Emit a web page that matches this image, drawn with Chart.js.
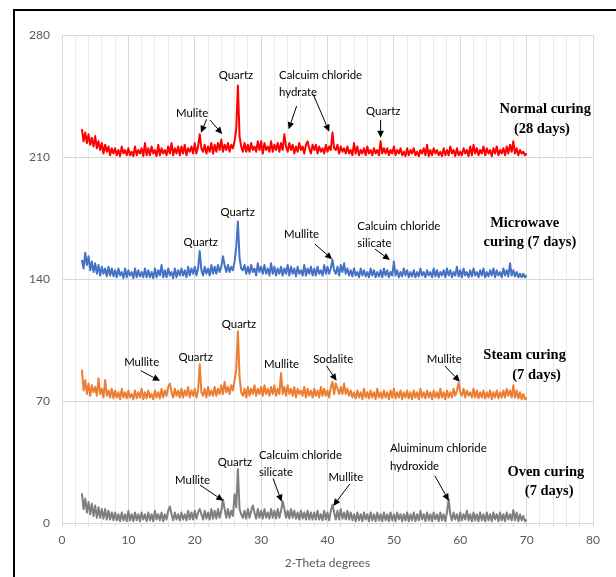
<!DOCTYPE html>
<html>
<head>
<meta charset="utf-8">
<title>XRD patterns</title>
<script src="https://cdn.jsdelivr.net/npm/chart.js"></script>
<style>
  html, body { margin: 0; padding: 0; background: #fff; overflow: hidden; }
  #wrap { position: relative; width: 616px; height: 577px; overflow: hidden; }
  #frame { position: absolute; left: 13px; top: 9px; width: 700px; height: 700px;
           border-left: 2px solid #000; border-top: 2px solid #000; pointer-events: none; }
</style>
</head>
<body>
<div id="wrap">
  <canvas id="xrd" width="616" height="577"></canvas>
  <div id="frame"></div>
</div>
<script>
// 2-theta grid: 3 to 70 degrees in steps of 0.25 (rows of 20 = 5 degrees)
const thetaStart = 3;
const thetaStep = 0.25;

const normal28 = [
  226, 219, 224, 218, 223, 217, 221, 216, 222, 215, 219, 214, 218, 212, 217, 213, 216, 211, 215, 212,
  215, 211, 214, 210.5, 216, 212, 214, 211, 215, 211, 213, 210.5, 216, 211, 214, 212, 215, 210.5, 218, 211,
  215, 211, 216, 212, 214, 210.5, 217, 211, 215, 212, 214, 211, 216, 212, 218, 211, 215, 212, 216, 211,
  216, 212, 217, 211, 215, 213, 216, 212, 218, 212, 216, 223, 215, 213, 217, 212, 216, 213, 218, 212,
  217, 213, 218, 214, 220, 213, 217, 214, 218, 213, 217, 215, 219, 226, 251, 222, 216, 213, 218, 213,
  217, 213, 218, 214, 216, 213, 219, 214, 219, 212, 218, 214, 216, 213, 219, 213, 217, 214, 218, 213,
  218, 214, 223, 216, 213, 218, 214, 217, 212, 216, 213, 218, 214, 216, 212, 217, 219, 215, 212, 217,
  214, 217, 212, 216, 213, 215, 212, 217, 213, 216, 214, 224, 215, 214, 217, 212, 216, 213, 215, 212,
  216, 212, 214, 211, 218, 212, 216, 211, 214, 212, 215, 211, 216, 212, 214, 211, 215, 212, 214, 211,
  219, 212, 215, 212, 215, 211, 214, 212, 216, 211, 214, 212, 215, 211, 213, 210.5, 215, 211, 214, 212,
  215, 211, 213, 210.5, 214, 212, 215, 211, 217, 210.5, 214, 211, 215, 212, 214, 211, 213, 210.5, 215, 211,
  214, 211, 216, 212, 214, 210.5, 215, 211, 213, 211, 215, 212, 214, 210.5, 216, 211, 217, 212, 215, 211,
  214, 212, 216, 211, 215, 212, 214, 210.5, 215, 212, 216, 211, 214, 212, 215, 211, 216, 212, 217, 213,
  219, 212, 215, 211, 214, 212, 213, 211, 212
];

const microwave7 = [
  151, 146, 155, 148, 153, 145, 150, 144, 149, 143, 148, 142, 147, 143, 146, 141.5, 147, 142, 146, 141.5,
  145, 141, 146, 142, 144, 140.5, 146, 141, 145, 142, 144, 140.5, 146, 141, 145, 141.5, 144, 141, 146, 141,
  145, 141, 144, 140.5, 146, 141, 145, 142, 148, 141, 145, 141, 146, 142, 144, 140.5, 146, 141, 145, 142,
  146, 142, 145, 141, 147, 142, 146, 143, 147, 142, 146, 156, 145, 142, 147, 143, 146, 142, 148, 143,
  147, 143, 148, 144, 147, 153, 148, 144, 148, 144, 147, 145, 150, 158, 173, 152, 146, 145, 148, 143,
  147, 143, 148, 144, 146, 142, 149, 144, 147, 143, 148, 143, 146, 142, 149, 143, 147, 142, 146, 143,
  147, 142, 146, 143, 148, 142, 147, 143, 146, 141.5, 147, 143, 145, 142, 148, 142, 146, 143, 147, 142,
  146, 142, 147, 143, 145, 142, 148, 143, 147, 143, 146, 151, 145, 143, 147, 142, 148, 144, 149, 143,
  146, 142, 145, 141.5, 146, 142, 144, 141, 146, 142, 145, 141.5, 144, 141, 146, 142, 145, 141, 144, 141.5,
  145, 141, 146, 142, 145, 141, 144, 142, 150, 142, 145, 141, 144, 141.5, 146, 142, 145, 141, 144, 141.5,
  145, 141, 144, 141.5, 146, 142, 144, 141, 145, 142, 144, 141, 146, 141.5, 145, 141, 144, 142, 145, 141,
  146, 142, 145, 141, 144, 142, 147, 141.5, 145, 141, 146, 142, 144, 141, 145, 141.5, 146, 142, 144, 141,
  145, 142, 146, 141, 144, 141.5, 145, 142, 146, 141, 145, 142, 144, 141, 146, 142, 145, 141.5, 149, 142,
  145, 141.5, 144, 141, 143, 141, 143, 141, 142
];

const steam7 = [
  88, 76, 82, 74, 80, 73, 79, 75, 78, 73, 83, 74, 77, 72, 82, 73, 76, 72, 77, 71.5,
  76, 72, 75, 71, 77, 72, 75, 71.5, 76, 72, 74, 71, 76, 71.5, 75, 72, 77, 71, 75, 71.5,
  76, 72, 74, 71, 76, 72, 75, 71.5, 77, 72, 76, 73, 78, 80, 75, 72, 77, 73, 76, 72,
  77, 72, 76, 73, 78, 72, 76, 73, 77, 72, 76, 91, 75, 73, 77, 72, 78, 73, 76, 73,
  78, 73, 77, 74, 79, 74, 81, 75, 78, 74, 79, 76, 82, 88, 110, 84, 75, 73, 77, 72,
  78, 73, 77, 74, 79, 73, 77, 74, 78, 73, 79, 74, 77, 73, 78, 74, 79, 73, 77, 74,
  86, 74, 78, 73, 79, 74, 77, 73, 78, 72, 77, 74, 76, 73, 78, 72, 77, 73, 76, 72,
  77, 73, 76, 72, 78, 73, 77, 73, 76, 72, 78, 81, 74, 80, 77, 74, 78, 74, 80, 74,
  77, 73, 76, 72, 75, 71.5, 76, 72, 75, 71, 77, 72, 75, 71.5, 76, 72, 75, 71, 77, 72,
  75, 71.5, 76, 72, 75, 71, 76, 72, 77, 71.5, 75, 72, 76, 71, 75, 72, 76, 71.5, 75, 71,
  76, 72, 75, 71, 77, 72, 75, 71.5, 76, 72, 75, 71, 76, 72, 75, 71.5, 77, 72, 75, 71,
  76, 72, 75, 72, 77, 73, 76, 80.5, 75, 73, 77, 72, 76, 73, 75, 72, 77, 72, 76, 71.5,
  75, 72, 76, 71.5, 75, 72, 76, 71, 75, 72, 76, 71.5, 75, 72, 76, 72, 77, 73, 76, 72,
  79, 72, 76, 71.5, 75, 71, 74, 71, 72
];

const oven7 = [
  17, 8, 14, 6, 12, 5, 11, 4, 10, 3, 9, 3, 8, 2.5, 8, 2, 7, 2, 6, 1.5,
  6, 1.5, 5, 1, 6, 1.5, 5, 1, 7, 1.5, 5, 1, 6, 1.5, 5, 1, 6, 2, 5, 1,
  6, 1.5, 5, 1, 7, 2, 5, 1.5, 6, 1, 5, 2, 7, 9.5, 5, 1.5, 6, 2, 5, 1.5,
  6, 2, 5, 1.5, 7, 2, 6, 2, 7, 2.5, 6, 8, 5, 2, 7, 2.5, 6, 2, 8, 2.5,
  7, 2.5, 8, 3, 7, 13.5, 8, 3, 8, 3, 7, 4, 16.5, 9, 31, 8, 5, 3, 7, 2.5,
  8, 3, 7, 10, 6, 2.5, 8, 3, 7, 2.5, 8, 3, 6, 2.5, 8, 3, 7, 2.5, 8, 3,
  7, 12.5, 8, 3, 7, 2.5, 8, 3, 7, 2.5, 6, 2, 7, 2.5, 6, 2, 7, 2, 6, 2,
  6, 2, 7, 2, 5, 1.5, 7, 2, 6, 1.5, 7, 10.5, 6, 2, 7, 2, 8, 2.5, 6, 2,
  7, 2, 6, 1.5, 5, 1, 6, 1.5, 5, 1, 6, 2, 5, 1, 6, 1.5, 5, 1, 6, 1.5,
  5, 1, 6, 1.5, 5, 1, 6, 1.5, 5, 1, 6, 2, 5, 1, 5, 1.5, 6, 1, 5, 1.5,
  6, 1, 5, 1.5, 7, 2, 5, 1, 6, 1.5, 5, 1, 6, 2, 5, 1, 6, 1.5, 5, 1,
  6, 13.5, 5, 1.5, 6, 2, 5, 1, 6, 1.5, 5, 2, 7, 1.5, 5, 1, 6, 1.5, 5, 1,
  6, 1.5, 5, 1, 6, 1.5, 5, 1, 6, 2, 5, 1, 6, 1.5, 5, 1, 6, 2, 5, 1.5,
  7.5, 1.5, 6, 1, 5, 1.5, 4, 1, 2
];

const yTicks = [0, 70, 140, 210, 280];
const xLabelEvery = 10;

// peak labels: [text, 2theta, y, align, bold]
const peakLabels = [
  ['Quartz', 26.2, 257, 'center'],
  ['Mulite', 19.6, 235.2, 'center'],
  ['Calcuim chloride', 32.7, 257, 'left'],
  ['hydrate', 32.7, 247.3, 'left'],
  ['Quartz', 48.4, 236, 'center'],
  ['Normal curing', 72.8, 237.3, 'center', true],
  ['(28 days)', 72.3, 225.9, 'center', true],

  ['Quartz', 26.46, 178.2, 'center'],
  ['Quartz', 20.9, 161.1, 'center'],
  ['Mullite', 36.1, 165.6, 'center'],
  ['Calcuim chloride', 44.5, 170.4, 'left'],
  ['silicate', 44.5, 160.4, 'left'],
  ['Microwave', 69.7, 171.9, 'center', true],
  ['curing (7 days)', 70.5, 160.8, 'center', true],

  ['Quartz', 26.66, 114.2, 'center'],
  ['Quartz', 20.13, 94.8, 'center'],
  ['Mullite', 12.0, 92, 'center'],
  ['Mullite', 33.08, 91, 'center'],
  ['Sodalite', 40.86, 94.1, 'center'],
  ['Mullite', 57.58, 94.1, 'center'],
  ['Steam curing', 69.7, 96.4, 'center', true],
  ['(7 days)', 71.5, 84.9, 'center', true],

  ['Quartz', 26.05, 35, 'center'],
  ['Mullite', 19.68, 24.3, 'center'],
  ['Calcuim chloride', 29.67, 39, 'left'],
  ['silicate', 29.67, 28.9, 'left'],
  ['Mullite', 42.77, 26.4, 'center'],
  ['Aluiminum chloride', 49.4, 43, 'left'],
  ['hydroxide', 49.4, 32.7, 'left'],
  ['Oven curing', 72.9, 29.4, 'center', true],
  ['(7 days)', 73.4, 18.4, 'center', true]
];

// arrows: [from 2theta, from y, tip 2theta, tip y]
const arrows = [
  [21.79, 231.6, 20.93, 223.9],
  [22.29, 231.2, 24.14, 223.2],
  [35.35, 239.2, 34.14, 225.9],
  [37.85, 246, 40.26, 224.5],
  [48.0, 231.2, 48.0, 221.1],
  [38.1, 160.1, 40.7, 151.3],
  [47.14, 157.2, 49.4, 150.9],
  [11.85, 87.4, 14.76, 81.6],
  [39.86, 90.1, 41.37, 81.6],
  [57.68, 90.1, 59.94, 81.1],
  [20.78, 21.8, 24.3, 12.8],
  [31.8, 25.6, 33.1, 12.2],
  [43.37, 22.4, 40.87, 9.8],
  [56.17, 27.1, 58.28, 12.8]
];

const toPoints = (arr) => arr.map((y, i) => ({ x: thetaStart + i * thetaStep, y }));

const notesPlugin = {
  id: 'notes',
  afterDatasetsDraw(chart) {
    const { ctx, scales: { x, y } } = chart;
    ctx.save();
    ctx.fillStyle = '#000';
    ctx.strokeStyle = '#000';
    ctx.textBaseline = 'middle';
    peakLabels.forEach(([text, tx, ty, align, bold]) => {
      ctx.font = bold ? 'bold 14.5px "Liberation Serif"' : '11.4px Lato';
      ctx.textAlign = align;
      ctx.fillText(text, x.getPixelForValue(tx), y.getPixelForValue(ty));
    });
    arrows.forEach(([x1, y1, x2, y2]) => {
      const ax = x.getPixelForValue(x1), ay = y.getPixelForValue(y1);
      const bx = x.getPixelForValue(x2), by = y.getPixelForValue(y2);
      const ang = Math.atan2(by - ay, bx - ax);
      const len = 7, hw = 3.3;
      const cx = bx - len * Math.cos(ang), cy = by - len * Math.sin(ang);
      ctx.lineWidth = 1;
      ctx.beginPath();
      ctx.moveTo(ax, ay);
      ctx.lineTo(cx, cy);
      ctx.stroke();
      ctx.beginPath();
      ctx.moveTo(bx, by);
      ctx.lineTo(cx + hw * Math.sin(ang), cy - hw * Math.cos(ang));
      ctx.lineTo(cx - hw * Math.sin(ang), cy + hw * Math.cos(ang));
      ctx.closePath();
      ctx.fill();
    });
    ctx.restore();
  }
};

const axisFont = { family: 'Lato', size: 12 };

new Chart(document.getElementById('xrd'), {
  type: 'line',
  data: {
    datasets: [
      { label: 'Normal curing (28 days)', data: toPoints(normal28), borderColor: '#ff0000' },
      { label: 'Microwave curing (7 days)', data: toPoints(microwave7), borderColor: '#4472c4' },
      { label: 'Steam curing (7 days)', data: toPoints(steam7), borderColor: '#ed7d31' },
      { label: 'Oven curing (7 days)', data: toPoints(oven7), borderColor: '#7f7f7f' }
    ]
  },
  options: {
    responsive: false,
    animation: false,
    devicePixelRatio: 1,
    layout: { padding: { left: 0, right: 23, top: 35, bottom: 0 } },
    plugins: { legend: { display: false }, tooltip: { enabled: false } },
    elements: { point: { radius: 0 }, line: { borderWidth: 2, tension: 0, borderJoinStyle: 'round' } },
    scales: {
      x: {
        type: 'linear',
        min: 0,
        max: 80,
        afterFit(scale) { scale.height = 54; },
        ticks: {
          stepSize: 2,
          autoSkip: false,
          maxRotation: 0,
          padding: 6,
          color: '#595959',
          font: axisFont,
          callback: (v) => (v % xLabelEvery === 0 ? v : '')
        },
        grid: {
          color: (c) => (c.tick && c.tick.value % xLabelEvery === 0 ? '#d9d9d9' : '#ebebeb'),
          tickLength: 4,
          tickColor: '#d9d9d9'
        },
        border: { color: '#d9d9d9' },
        title: {
          display: true,
          text: '2-Theta degrees',
          color: '#595959',
          font: axisFont,
          padding: { top: 0, bottom: 7 }
        }
      },
      y: {
        min: 0,
        max: 280,
        afterFit(scale) { scale.width = 62; },
        afterBuildTicks(scale) { scale.ticks = yTicks.map((v) => ({ value: v })); },
        ticks: { padding: 12, color: '#595959', font: axisFont },
        grid: { color: '#d9d9d9', drawTicks: false },
        border: { display: false }
      }
    }
  },
  plugins: [notesPlugin]
});
</script>
</body>
</html>
